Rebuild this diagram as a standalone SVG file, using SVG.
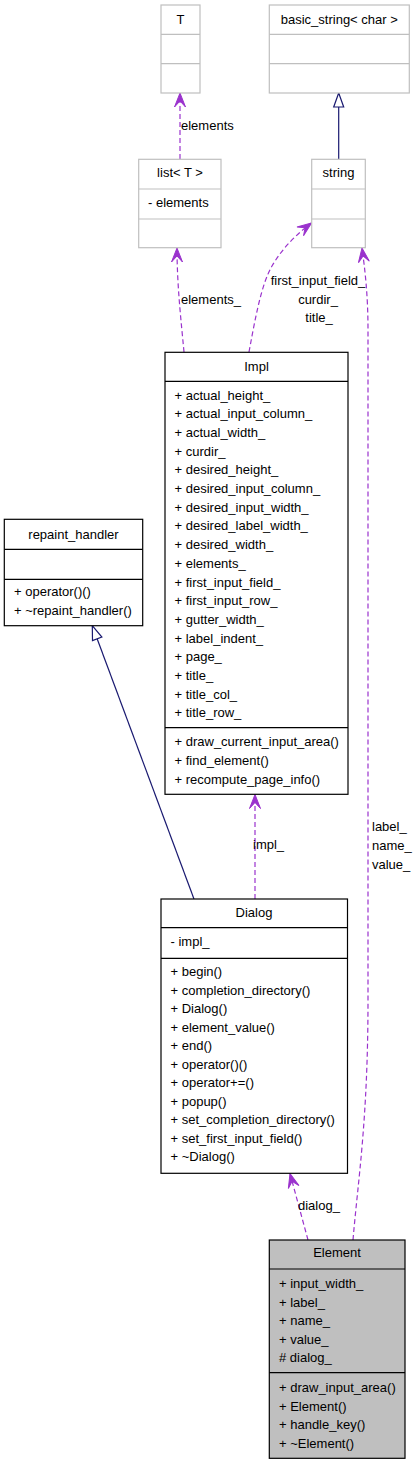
<svg xmlns="http://www.w3.org/2000/svg" width="415" height="1464" viewBox="0 0 415 1464">
<style>
text{font-family:"Liberation Sans",Arial,sans-serif;font-size:13px;fill:#000}
.c{text-anchor:middle}
.box{fill:#fff;stroke:#000;stroke-width:1.2}
.ext{fill:#fff;stroke:#bfbfbf;stroke-width:1.2}
.sep{stroke:#000;stroke-width:1.2}
.sepx{stroke:#bfbfbf;stroke-width:1.2}
.use{fill:none;stroke:#9a32cd;stroke-width:1.2;stroke-dasharray:5,3;marker-end:url(#vee)}
.inh{fill:none;stroke:#191970;stroke-width:1.2;marker-end:url(#tri)}
</style>
<defs>
<marker id="vee" viewBox="-15 -7 16 14" refX="0" refY="0" markerWidth="16" markerHeight="14" markerUnits="userSpaceOnUse" orient="auto">
<path d="M0,0 L-14,-5.5 L-8,0 L-14,5.5 Z" fill="#9a32cd" stroke="#9a32cd" stroke-width="1"/>
</marker>
<marker id="tri" viewBox="-16 -7 17 14" refX="0" refY="0" markerWidth="17" markerHeight="14" markerUnits="userSpaceOnUse" orient="auto">
<path d="M0,0 L-14,-5 L-14,5 Z" fill="#fff" stroke="#191970" stroke-width="1.2"/>
</marker>
</defs>
<g id="connectors">
<path class="inh" d="M338.7,159 L338.7,93"/>
<path class="use" d="M180,159 L180,93"/>
<text x="181" y="129.5">elements</text>
<path class="use" d="M184,352 C181,320 177,285 177,248"/>
<text x="181" y="303.5">elements_</text>
<path class="use" d="M249,352 C255,320 261,285 272,266 C283,247 298,233 311.5,223"/>
<text class="c" x="318" y="284.5">first_input_field_</text>
<text class="c" x="318" y="303.5">curdir_</text>
<text class="c" x="319" y="322">title_</text>
<path class="use" d="M353,1240 C358,1180 368,1120 368,1000 L368,330 C368,295 365,270 362,248"/>
<text x="372" y="830.5">label_</text>
<text x="372" y="849.5">name_</text>
<text x="372" y="868.5">value_</text>
<path class="use" d="M255,899 L255,794.5"/>
<text x="253" y="849">impl_</text>
<path class="use" d="M308,1240 L290,1173.5"/>
<text x="298" y="1209.5">dialog_</text>
<path class="inh" d="M194,899 L92.3,625.7"/>
</g>
<g id="T">
<rect class="ext" x="161" y="5" width="39" height="88"/>
<line class="sepx" x1="161" y1="34.3" x2="200" y2="34.3"/>
<line class="sepx" x1="161" y1="63.7" x2="200" y2="63.7"/>
<text class="c" x="180.5" y="24">T</text>
</g>
<g id="basic_string">
<rect class="ext" x="269.3" y="5" width="140" height="88"/>
<line class="sepx" x1="269.3" y1="34.3" x2="409.3" y2="34.3"/>
<line class="sepx" x1="269.3" y1="63.7" x2="409.3" y2="63.7"/>
<text class="c" x="339.3" y="24">basic_string&lt; char &gt;</text>
</g>
<g id="list">
<rect class="ext" x="138.7" y="159.3" width="82.3" height="88.4"/>
<line class="sepx" x1="138.7" y1="189" x2="221" y2="189"/>
<line class="sepx" x1="138.7" y1="219" x2="221" y2="219"/>
<text class="c" x="180" y="177">list&lt; T &gt;</text>
<text x="148" y="207">- elements</text>
</g>
<g id="string">
<rect class="ext" x="311.7" y="159.3" width="53.6" height="88.4"/>
<line class="sepx" x1="311.7" y1="189" x2="365.3" y2="189"/>
<line class="sepx" x1="311.7" y1="219" x2="365.3" y2="219"/>
<text class="c" x="338.5" y="177">string</text>
</g>
<g id="Impl">
<rect class="box" x="165" y="352.3" width="183" height="442"/>
<line class="sep" x1="165" y1="381.3" x2="348" y2="381.3"/>
<line class="sep" x1="165" y1="727.7" x2="348" y2="727.7"/>
<text class="c" x="256.5" y="370.5">Impl</text>
<text x="174.5" y="399.5">+ actual_height_</text>
<text x="174.5" y="418.2">+ actual_input_column_</text>
<text x="174.5" y="436.9">+ actual_width_</text>
<text x="174.5" y="455.6">+ curdir_</text>
<text x="174.5" y="474.3">+ desired_height_</text>
<text x="174.5" y="493">+ desired_input_column_</text>
<text x="174.5" y="511.7">+ desired_input_width_</text>
<text x="174.5" y="530.4">+ desired_label_width_</text>
<text x="174.5" y="549.1">+ desired_width_</text>
<text x="174.5" y="567.8">+ elements_</text>
<text x="174.5" y="586.5">+ first_input_field_</text>
<text x="174.5" y="605.2">+ first_input_row_</text>
<text x="174.5" y="623.9">+ gutter_width_</text>
<text x="174.5" y="642.6">+ label_indent_</text>
<text x="174.5" y="661.3">+ page_</text>
<text x="174.5" y="680">+ title_</text>
<text x="174.5" y="698.7">+ title_col_</text>
<text x="174.5" y="717.4">+ title_row_</text>
<text x="174.5" y="746.2">+ draw_current_input_area()</text>
<text x="174.5" y="764.9">+ find_element()</text>
<text x="174.5" y="783.6">+ recompute_page_info()</text>
</g>
<g id="repaint_handler">
<rect class="box" x="4.3" y="519.3" width="138.4" height="106.4"/>
<line class="sep" x1="4.3" y1="549.3" x2="142.7" y2="549.3"/>
<line class="sep" x1="4.3" y1="579.3" x2="142.7" y2="579.3"/>
<text class="c" x="73.5" y="538.5">repaint_handler</text>
<text x="14" y="596">+ operator()()</text>
<text x="14" y="615">+ ~repaint_handler()</text>
</g>
<g id="Dialog">
<rect class="box" x="161" y="899" width="186.5" height="274.3"/>
<line class="sep" x1="161" y1="927.7" x2="347.5" y2="927.7"/>
<line class="sep" x1="161" y1="958.3" x2="347.5" y2="958.3"/>
<text class="c" x="254" y="917">Dialog</text>
<text x="170.5" y="946">- impl_</text>
<text x="170.5" y="976.2">+ begin()</text>
<text x="170.5" y="994.7">+ completion_directory()</text>
<text x="170.5" y="1013.2">+ Dialog()</text>
<text x="170.5" y="1031.7">+ element_value()</text>
<text x="170.5" y="1050.2">+ end()</text>
<text x="170.5" y="1068.7">+ operator()()</text>
<text x="170.5" y="1087.2">+ operator+=()</text>
<text x="170.5" y="1105.7">+ popup()</text>
<text x="170.5" y="1124.2">+ set_completion_directory()</text>
<text x="170.5" y="1142.7">+ set_first_input_field()</text>
<text x="170.5" y="1161.2">+ ~Dialog()</text>
</g>
<g id="Element">
<rect class="box" x="269.3" y="1240" width="135.7" height="218.3" style="fill:#bfbfbf"/>
<line class="sep" x1="269.3" y1="1269" x2="405" y2="1269"/>
<line class="sep" x1="269.3" y1="1372.7" x2="405" y2="1372.7"/>
<text class="c" x="337" y="1257">Element</text>
<text x="279" y="1288">+ input_width_</text>
<text x="279" y="1306.6">+ label_</text>
<text x="279" y="1325.2">+ name_</text>
<text x="279" y="1343.8">+ value_</text>
<text x="279" y="1362.4"># dialog_</text>
<text x="279" y="1392.2">+ draw_input_area()</text>
<text x="279" y="1410.8">+ Element()</text>
<text x="279" y="1429.4">+ handle_key()</text>
<text x="279" y="1448">+ ~Element()</text>
</g>
</svg>
